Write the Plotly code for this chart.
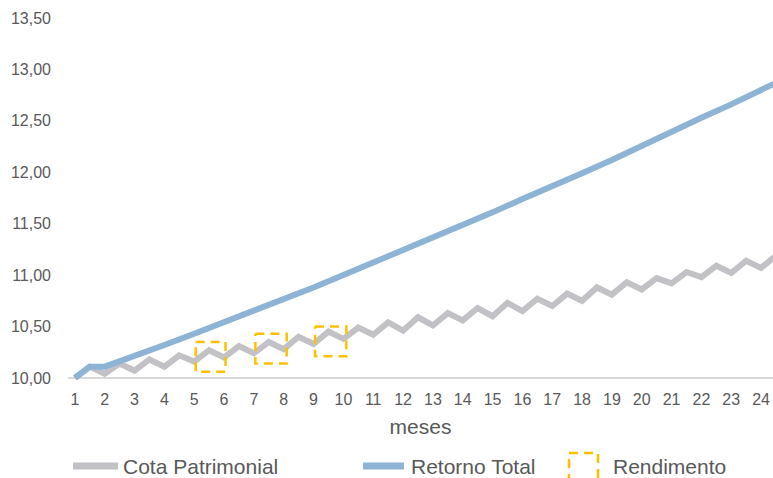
import plotly.graph_objects as go

# ---- data ----
meses_ticks = list(range(1, 25))
cota_x = [1 + 0.5 * i for i in range(48)]
cota = [10.00, 10.11, 10.04, 10.14, 10.07, 10.18, 10.11, 10.22, 10.16, 10.27,
        10.20, 10.31, 10.24, 10.35, 10.28, 10.40, 10.33, 10.45, 10.38, 10.49,
        10.42, 10.54, 10.46, 10.59, 10.51, 10.63, 10.56, 10.68, 10.60, 10.73,
        10.65, 10.77, 10.70, 10.82, 10.75, 10.88, 10.81, 10.93, 10.86, 10.97,
        10.92, 11.03, 10.98, 11.09, 11.02, 11.14, 11.07, 11.19]
retorno_x = [1, 1.5] + list(range(2, 25)) + [24.5]
retorno = [10.00, 10.11, 10.11, 10.21, 10.32, 10.43, 10.54, 10.65, 10.76, 10.88,
           11.00, 11.12, 11.24, 11.36, 11.49, 11.61, 11.74, 11.86, 11.99, 12.12,
           12.26, 12.39, 12.53, 12.66, 12.80, 12.87]
rend_x0 = [5.05, 7.05, 9.05]
rend_x1 = [6.05, 8.10, 10.10]
rend_y0 = [10.06, 10.14, 10.21]
rend_y1 = [10.35, 10.43, 10.50]
y_ticks = [10.0, 10.5, 11.0, 11.5, 12.0, 12.5, 13.0, 13.5]

GRAY = "#C2C2C6"
BLUE = "#8DB4D4"
GOLD = "#FFC000"
TXT = "#595959"
FONT = "Liberation Sans, Arial, sans-serif"

W, H = 773, 478
L, T, R = 68, 18, 0
B = H - 380
PW, PH = W - L - R, H - T - B


def px(xp):  # page pixel -> paper x
    return (xp - L) / PW


def py(yp):  # page pixel -> paper y
    return (H - B - yp) / PH


# rectangles path for rendimento
bx, by = [], []
for x0, x1, y0, y1 in zip(rend_x0, rend_x1, rend_y0, rend_y1):
    bx += [x0, x1, x1, x0, x0, None]
    by += [y1, y1, y0, y0, y1, None]

fig = go.Figure()
fig.add_trace(go.Scatter(x=cota_x, y=cota, mode="lines", name="Cota Patrimonial",
                         line=dict(color=GRAY, width=6), showlegend=False))
fig.add_trace(go.Scatter(x=retorno_x, y=retorno, mode="lines", name="Retorno Total",
                         line=dict(color=BLUE, width=6), showlegend=False))
fig.add_trace(go.Scatter(x=bx, y=by, mode="lines", name="Rendimento",
                         line=dict(color=GOLD, width=2.5, dash="9px,6px"),
                         showlegend=False))

shapes = [
    dict(type="line", xref="paper", x0=0, x1=1, yref="y", y0=10, y1=10,
         line=dict(color="#D9D9D9", width=2), layer="below"),
    # legend swatches
    dict(type="line", xref="paper", yref="paper", x0=px(73), x1=px(118),
         y0=py(466), y1=py(466), line=dict(color=GRAY, width=7)),
    dict(type="line", xref="paper", yref="paper", x0=px(363), x1=px(404),
         y0=py(466), y1=py(466), line=dict(color=BLUE, width=7)),
    dict(type="rect", xref="paper", yref="paper", x0=px(569), x1=px(598),
         y0=py(453), y1=py(484), line=dict(color=GOLD, width=2.5, dash="9px,6px")),
]

ann = []
for xp, t in [(121, "Cota Patrimonial"), (409, "Retorno Total"), (611, "Rendimento")]:
    ann.append(dict(text=t, xref="paper", yref="paper", x=px(xp), y=py(466),
                    xanchor="left", yanchor="middle", showarrow=False,
                    font=dict(family=FONT, size=21, color=TXT)))

fig.update_layout(
    width=W, height=H,
    margin=dict(l=L, r=R, t=T, b=B, pad=0),
    paper_bgcolor="white", plot_bgcolor="white",
    separators=",.",
    font=dict(family=FONT, color=TXT),
    shapes=shapes, annotations=ann,
    xaxis=dict(range=[0.77, 24.4], tickmode="array", tickvals=meses_ticks,
               ticktext=[str(m) for m in meses_ticks], showgrid=False,
               zeroline=False, showline=False, ticks="",
               ticklabelstandoff=8,
               tickfont=dict(family=FONT, size=16, color=TXT),
               title=dict(text="meses", standoff=12,
                          font=dict(family=FONT, size=21, color=TXT))),
    yaxis=dict(range=[9.98, 13.5], tickmode="array", tickvals=y_ticks,
               tickformat=".2f", showgrid=False, zeroline=False, showline=False,
               ticks="", ticklabelstandoff=16,
               tickfont=dict(family=FONT, size=16, color=TXT)),
)

fig.write_html(
    "out.html",
    config={"displayModeBar": False},
    post_script="document.body.style.margin='0';document.body.style.overflow='hidden';",
)
